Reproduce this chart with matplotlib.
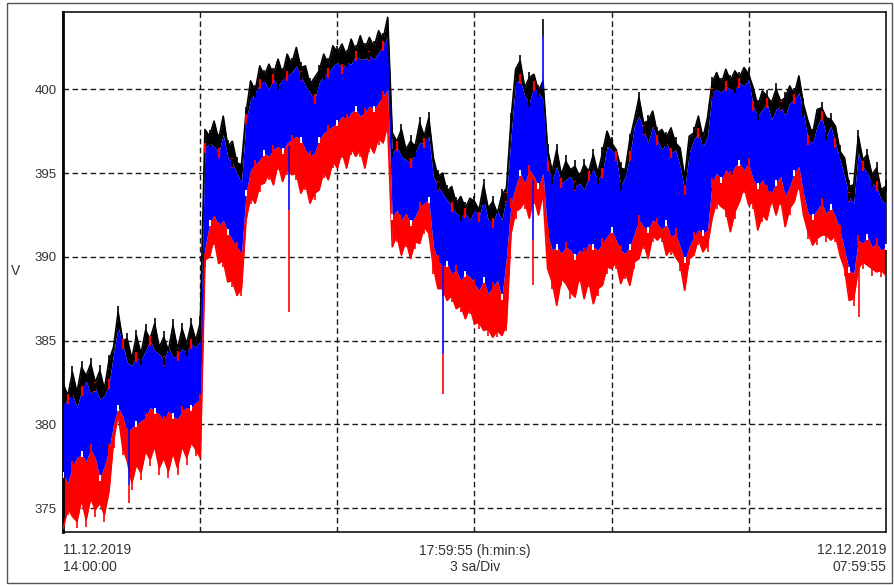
import matplotlib
matplotlib.use("Agg")
import matplotlib.pyplot as plt
from matplotlib.patches import Rectangle
import numpy as np

plt.rcParams['font.family'] = ['Liberation Sans', 'DejaVu Sans']

# samples every 6 minutes from 11.12.2019 14:00:00 (hours since start)
step_h = 0.1
n_samples = 181

# upper envelope (black), blue band upper / lower edge, lower envelope (red), in V
v_black_top = [
    382.4, 381.7, 383.1, 381.9, 383.4, 382.9, 383.6, 382.5, 383.2, 382.1, 383.8,
    384.6, 386.7, 385.0, 385.1, 383.9, 385.3, 384.2, 385.6, 385.1, 386.0, 384.6,
    385.2, 384.4, 385.9, 384.5, 385.7, 384.8, 386.0, 385.0, 386.1,
    397.6, 397.2, 398.1, 397.0, 398.4, 396.6, 396.9, 395.6, 395.5, 398.6, 400.5,
    399.9, 401.4, 400.8, 401.5, 400.9, 401.8, 400.9, 402.1, 401.5, 402.5, 401.3,
    401.4, 400.3, 400.7, 401.1, 402.1, 401.5, 402.6, 402.2,
    402.7, 402.0, 403.0, 402.3, 403.2, 402.4, 403.1, 402.5, 403.5, 403.0, 404.3,
    397.4, 396.9, 397.6, 396.4, 396.9, 396.6, 398.0, 397.2, 398.3, 395.9, 394.8,
    395.0, 393.9, 394.2, 393.2, 393.6, 392.9, 393.5, 393.3,
    392.8, 394.3, 392.9, 393.3, 392.6, 393.7, 394.1, 398.2, 401.2, 401.7, 400.1,
    400.7, 400.9, 399.9, 400.5, 396.4, 395.1, 396.4, 394.9, 395.7, 395.2, 395.4,
    394.8, 395.5, 395.1, 396.1, 395.0, 396.2, 397.5, 396.8,
    396.4, 395.3, 395.2, 397.0, 398.2, 399.5, 398.0, 398.1, 398.7, 397.4, 397.6,
    397.1, 397.7, 396.8, 396.5, 394.7, 397.2, 397.4, 398.4, 397.1, 398.3, 400.4,
    401.0, 400.3, 401.2, 400.5, 401.1, 400.7, 401.3, 400.9,
    400.1, 399.0, 399.9, 399.6, 399.2, 400.0, 399.3, 399.5, 400.2, 399.7, 400.8,
    399.1, 398.1, 397.3, 398.8, 398.9, 398.3, 398.2, 397.8, 396.3, 395.9, 394.2,
    394.3, 397.2, 395.8, 396.1, 394.9, 395.3, 394.0, 394.2,
]
v_blue_top = [
    381.2, 381.5, 381.8, 381.0, 382.0, 382.6, 381.8, 382.2, 381.5, 381.7, 382.4,
    384.2, 385.8, 384.8, 383.7, 383.5, 384.0, 383.8, 384.4, 385.0, 384.4, 384.2,
    383.8, 384.6, 384.0, 384.1, 384.5, 384.3, 384.8, 384.6, 385.0,
    396.5, 396.8, 396.6, 396.2, 397.3, 396.0, 395.6, 395.0, 394.4, 398.2, 399.4,
    399.8, 400.3, 400.5, 400.0, 400.6, 400.2, 400.6, 400.8, 401.0, 401.4, 400.8,
    400.2, 399.8, 399.4, 400.4, 400.8, 401.0, 401.4, 401.6,
    401.2, 401.6, 401.5, 402.0, 401.8, 401.8, 402.0, 401.8, 402.2, 402.6, 403.2,
    396.2, 396.6, 396.0, 395.8, 395.6, 396.2, 396.8, 396.8, 397.2, 394.8, 394.2,
    393.8, 393.4, 393.0, 392.6, 392.4, 392.6, 392.2, 392.8,
    392.4, 393.4, 392.2, 392.0, 392.8, 392.2, 393.6, 397.2, 400.4, 400.6, 399.6,
    399.2, 400.2, 399.8, 399.4, 395.4, 394.6, 395.4, 394.4, 394.6, 394.8, 394.2,
    394.4, 394.0, 394.8, 395.2, 394.6, 395.0, 396.6, 396.4,
    396.0, 394.2, 394.8, 396.0, 397.8, 398.4, 397.6, 396.8, 397.8, 397.0, 396.4,
    396.8, 396.2, 396.4, 395.4, 394.0, 396.2, 397.0, 397.4, 396.6, 397.2, 399.8,
    400.0, 399.8, 400.2, 400.0, 400.0, 400.4, 400.2, 400.6,
    399.0, 398.4, 398.8, 399.2, 398.2, 398.8, 399.0, 398.4, 399.2, 399.4, 399.8,
    398.6, 397.0, 396.8, 397.8, 398.4, 397.2, 397.8, 396.8, 395.8, 394.8, 393.6,
    393.2, 396.2, 395.4, 395.0, 394.4, 394.2, 393.4, 393.2,
]
v_blue_low = [
    377.0, 376.5, 377.5, 378.0, 378.2, 377.8, 378.5, 378.0, 376.8, 377.5, 378.5,
    380.0, 381.0, 380.5, 379.5, 379.8, 380.0, 380.2, 380.4, 381.0, 380.8, 380.6,
    380.2, 380.8, 380.5, 380.3, 380.8, 381.0, 381.0, 381.3, 381.5,
    390.5, 392.0, 392.5, 391.8, 392.2, 391.5, 391.0, 390.6, 390.2, 393.8, 395.2,
    395.5, 395.8, 396.2, 396.0, 396.4, 396.6, 396.3, 396.8, 397.0, 397.2, 397.0,
    396.4, 396.0, 396.2, 397.0, 397.4, 397.6, 397.8, 398.0,
    398.4, 398.2, 398.6, 398.8, 398.4, 398.6, 399.0, 398.8, 399.2, 399.6, 400.0,
    392.4, 392.8, 392.2, 392.6, 392.0, 392.4, 393.0, 393.2, 393.4, 390.6, 389.8,
    389.4, 389.6, 389.0, 389.2, 388.6, 389.0, 388.8, 388.4,
    388.0, 388.6, 387.8, 388.2, 388.6, 387.6, 390.0, 393.2, 394.2, 395.0, 394.4,
    395.2, 394.8, 394.2, 395.0, 391.4, 390.4, 390.6, 390.2, 390.6, 390.4, 390.0,
    390.4, 390.2, 390.8, 390.6, 390.4, 390.8, 391.2, 391.6,
    391.0, 390.4, 390.2, 390.6, 391.4, 392.2, 391.8, 391.6, 392.2, 392.0, 391.6,
    392.0, 391.2, 391.4, 390.6, 389.8, 390.6, 391.2, 391.6, 391.4, 391.6, 394.4,
    395.0, 394.6, 395.2, 394.8, 395.4, 395.6, 395.2, 395.6,
    394.6, 394.2, 394.6, 394.0, 393.8, 394.4, 394.8, 393.6, 394.2, 395.0, 395.4,
    393.8, 392.6, 392.4, 392.8, 393.2, 392.6, 393.0, 392.4, 391.6, 390.4, 389.2,
    389.0, 391.0, 390.8, 391.2, 390.6, 390.8, 390.4, 390.6,
]
v_red_low = [
    373.8, 375.0, 374.5, 374.2, 375.5, 374.3, 375.6, 374.9, 375.3, 374.6, 376.0,
    379.0, 380.6, 378.6, 377.8, 376.5, 377.6, 377.1, 378.4, 377.9, 378.7, 377.4,
    378.0, 377.2, 378.3, 377.4, 378.7, 378.0, 378.9, 378.5, 378.0,
    389.8, 390.0, 391.1, 389.6, 389.8, 388.5, 388.6, 387.7, 388.1, 392.2, 393.6,
    393.2, 394.3, 394.4, 395.0, 394.3, 395.6, 394.5, 395.3, 394.9, 395.0, 393.8,
    394.4, 393.2, 393.8, 394.0, 395.1, 394.6, 395.7, 395.3,
    396.3, 395.3, 396.5, 396.0, 396.4, 395.3, 396.7, 396.2, 397.1, 396.8, 397.9,
    390.6, 391.3, 390.1, 391.0, 389.9, 390.9, 390.8, 391.8, 391.4, 389.4, 388.1,
    388.1, 387.4, 387.7, 386.9, 387.1, 386.3, 387.0, 386.0,
    386.1, 385.6, 385.7, 385.2, 385.6, 385.3, 386.0, 391.4, 392.7, 392.9, 393.3,
    392.3, 393.6, 392.5, 393.8, 389.3, 388.5, 387.1, 388.7, 388.4, 387.9, 387.6,
    388.9, 387.5, 388.6, 387.2, 388.1, 388.3, 389.4, 389.3,
    389.7, 388.4, 389.1, 388.3, 389.7, 389.9, 390.9, 389.9, 391.3, 391.0, 391.3,
    390.1, 390.5, 390.0, 389.6, 388.0, 389.9, 390.1, 391.1, 390.3, 390.7, 392.3,
    393.3, 393.0, 392.8, 391.5, 392.7, 393.3, 394.2, 393.1,
    393.3, 391.6, 392.5, 392.2, 393.5, 392.5, 393.5, 391.8, 392.9, 393.3, 394.4,
    392.5, 391.5, 390.7, 391.1, 391.3, 391.3, 391.0, 391.3, 390.1, 389.3, 387.4,
    387.5, 389.3, 389.7, 389.5, 389.3, 389.1, 389.2, 388.9,
]

# single short dips (start of dip, end of blue part, end of red part)
dip_t = [1.43, 4.93, 8.30, 10.27, 17.41]
dip_start = [379.6, 396.6, 389.4, 394.6, 390.6]
dip_blue = [376.4, 392.8, 384.2, 391.0, 390.6]
dip_red = [375.3, 386.7, 381.8, 388.3, 386.4]
# single peak at 10.5 h
peak_t = [10.5]
peak_start = [400.0]
peak_blue = [403.2]
peak_black = [404.2]

t = np.arange(n_samples) * step_h

fig = plt.figure(figsize=(8.94, 5.86), dpi=100)
ax = fig.add_axes([63.3 / 894, 53.7 / 586, 822.4 / 894, 520 / 586])

ax.fill_between(t, v_blue_top, v_black_top, color='black', lw=0, zorder=2)
ax.fill_between(t, v_red_low, v_blue_low, color='red', lw=0, zorder=2)
ax.fill_between(t, v_blue_low, v_blue_top, color='blue', lw=0, zorder=3)
ax.plot(t, v_black_top, color='black', lw=1.2, zorder=4)
ax.plot(t, v_red_low, color='red', lw=1.2, zorder=4)
# hair on the outer edges
ax.plot(t, v_black_top, color='black', ls='none', marker='|', ms=9, mew=1.2,
        markevery=(0, 2), zorder=4)
ax.plot(t, v_red_low, color='red', ls='none', marker='|', ms=10, mew=1.2,
        markevery=(1, 2), zorder=4)
# texture inside the band: short red traces under the black, gaps above the red
ax.plot(t, v_blue_top, color='red', ls='none', marker='|', ms=7, mew=1.6,
        markevery=(1, 3), zorder=4)
ax.plot(t, v_blue_top, color='black', ls='none', marker='|', ms=6, mew=1.4,
        markevery=(2, 5), zorder=4)
ax.plot(t, v_blue_low, color='white', ls='none', marker='|', ms=5, mew=1.4,
        markevery=(0, 4), zorder=4)
ax.plot(t, v_blue_low, color='red', ls='none', marker='|', ms=7, mew=1.4,
        markevery=(2, 4), zorder=4)

ax.vlines(dip_t, dip_red, dip_blue, color='red', lw=1.2, zorder=4)
ax.vlines(dip_t, dip_blue, dip_start, color='blue', lw=1.2, zorder=5)
ax.vlines(peak_t, peak_blue, peak_black, color='black', lw=1.2, zorder=4)
ax.vlines(peak_t, peak_start, peak_blue, color='blue', lw=1.2, zorder=5)

ax.set_xlim(0, 18)
ax.set_ylim(373.55, 404.6)
ax.set_xticks([3, 6, 9, 12, 15])
ax.set_xticklabels([])
ax.set_yticks([375, 380, 385, 390, 395, 400])
ax.tick_params(length=0, pad=5, labelsize=9.5, labelcolor='#333333')
ax.set_axisbelow(True)
ax.grid(True, color='#1a1a1a', linestyle=(0, (4, 2.5)), linewidth=1.0)

for side in ['top', 'right', 'bottom']:
    ax.spines[side].set_linewidth(1.1)
ax.spines['left'].set_linewidth(2.0)

txt = dict(fontsize=10, color='#333333', va='center')
fig.text(16 / 894, 1 - 271 / 586, 'V', ha='center', **txt)
fig.text(63.5 / 894, 1 - 550 / 586, '11.12.2019', ha='left', **txt)
fig.text(63.5 / 894, 1 - 567 / 586, '14:00:00', ha='left', **txt)
fig.text(475 / 894, 1 - 551 / 586, '17:59:55 (h:min:s)', ha='center', **txt)
fig.text(475 / 894, 1 - 567 / 586, '3 sa/Div', ha='center', **txt)
fig.text(886 / 894, 1 - 550 / 586, '12.12.2019', ha='right', **txt)
fig.text(886 / 894, 1 - 567 / 586, '07:59:55', ha='right', **txt)

# outer frame of the window
fig.add_artist(Rectangle((7 / 894, 3 / 586), 885 / 894, 580 / 586,
                         transform=fig.transFigure, fill=False,
                         edgecolor='#555555', lw=1.0))

fig.savefig('out.png', dpi=100)
